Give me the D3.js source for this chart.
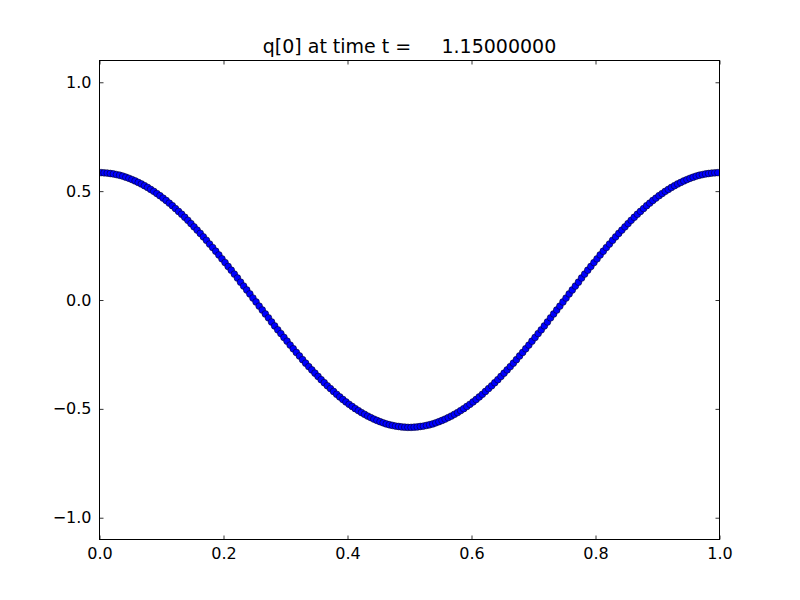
<!DOCTYPE html>
<html><head><meta charset="utf-8">
<script src="https://cdn.jsdelivr.net/npm/d3@7"></script>
<style>body{margin:0;background:#fff}svg{display:block}</style>
</head><body><svg id="c" width="800" height="600"></svg>
<script>
const titleText = "q[0] at time t =     1.15000000";
const xTicks = [0.0, 0.2, 0.4, 0.6, 0.8, 1.0];
const yTicks = [-1.0, -0.5, 0.0, 0.5, 1.0];
const xValues = [
0.0025,0.0075,0.0125,0.0175,0.0225,0.0275,0.0325,0.0375,0.0425,0.0475,
0.0525,0.0575,0.0625,0.0675,0.0725,0.0775,0.0825,0.0875,0.0925,0.0975,
0.1025,0.1075,0.1125,0.1175,0.1225,0.1275,0.1325,0.1375,0.1425,0.1475,
0.1525,0.1575,0.1625,0.1675,0.1725,0.1775,0.1825,0.1875,0.1925,0.1975,
0.2025,0.2075,0.2125,0.2175,0.2225,0.2275,0.2325,0.2375,0.2425,0.2475,
0.2525,0.2575,0.2625,0.2675,0.2725,0.2775,0.2825,0.2875,0.2925,0.2975,
0.3025,0.3075,0.3125,0.3175,0.3225,0.3275,0.3325,0.3375,0.3425,0.3475,
0.3525,0.3575,0.3625,0.3675,0.3725,0.3775,0.3825,0.3875,0.3925,0.3975,
0.4025,0.4075,0.4125,0.4175,0.4225,0.4275,0.4325,0.4375,0.4425,0.4475,
0.4525,0.4575,0.4625,0.4675,0.4725,0.4775,0.4825,0.4875,0.4925,0.4975,
0.5025,0.5075,0.5125,0.5175,0.5225,0.5275,0.5325,0.5375,0.5425,0.5475,
0.5525,0.5575,0.5625,0.5675,0.5725,0.5775,0.5825,0.5875,0.5925,0.5975,
0.6025,0.6075,0.6125,0.6175,0.6225,0.6275,0.6325,0.6375,0.6425,0.6475,
0.6525,0.6575,0.6625,0.6675,0.6725,0.6775,0.6825,0.6875,0.6925,0.6975,
0.7025,0.7075,0.7125,0.7175,0.7225,0.7275,0.7325,0.7375,0.7425,0.7475,
0.7525,0.7575,0.7625,0.7675,0.7725,0.7775,0.7825,0.7875,0.7925,0.7975,
0.8025,0.8075,0.8125,0.8175,0.8225,0.8275,0.8325,0.8375,0.8425,0.8475,
0.8525,0.8575,0.8625,0.8675,0.8725,0.8775,0.8825,0.8875,0.8925,0.8975,
0.9025,0.9075,0.9125,0.9175,0.9225,0.9275,0.9325,0.9375,0.9425,0.9475,
0.9525,0.9575,0.9625,0.9675,0.9725,0.9775,0.9825,0.9875,0.9925,0.9975
];
const qValues = [
0.585,0.584,0.583,0.581,0.579,0.576,0.573,0.569,0.564,0.559,
0.553,0.547,0.540,0.533,0.525,0.517,0.508,0.499,0.489,0.479,
0.468,0.457,0.445,0.433,0.420,0.407,0.394,0.380,0.366,0.351,
0.336,0.321,0.306,0.290,0.274,0.257,0.241,0.224,0.207,0.189,
0.172,0.154,0.137,0.119,0.101,0.082,0.064,0.046,0.028,0.009,
-0.009,-0.028,-0.046,-0.064,-0.082,-0.101,-0.119,-0.137,-0.154,-0.172,
-0.189,-0.207,-0.224,-0.241,-0.257,-0.274,-0.290,-0.306,-0.321,-0.336,
-0.351,-0.366,-0.380,-0.394,-0.407,-0.420,-0.433,-0.445,-0.457,-0.468,
-0.479,-0.489,-0.499,-0.508,-0.517,-0.525,-0.533,-0.540,-0.547,-0.553,
-0.559,-0.564,-0.569,-0.573,-0.576,-0.579,-0.581,-0.583,-0.584,-0.585,
-0.585,-0.584,-0.583,-0.581,-0.579,-0.576,-0.573,-0.569,-0.564,-0.559,
-0.553,-0.547,-0.540,-0.533,-0.525,-0.517,-0.508,-0.499,-0.489,-0.479,
-0.468,-0.457,-0.445,-0.433,-0.420,-0.407,-0.394,-0.380,-0.366,-0.351,
-0.336,-0.321,-0.306,-0.290,-0.274,-0.257,-0.241,-0.224,-0.207,-0.189,
-0.172,-0.154,-0.137,-0.119,-0.101,-0.082,-0.064,-0.046,-0.028,-0.009,
0.009,0.028,0.046,0.064,0.082,0.101,0.119,0.137,0.154,0.172,
0.189,0.207,0.224,0.241,0.257,0.274,0.290,0.306,0.321,0.336,
0.351,0.366,0.380,0.394,0.407,0.420,0.433,0.445,0.457,0.468,
0.479,0.489,0.499,0.508,0.517,0.525,0.533,0.540,0.547,0.553,
0.559,0.564,0.569,0.573,0.576,0.579,0.581,0.583,0.584,0.585
];

const L = 99.5, R = 719.5, T = 60.5, B = 539.5;
const svg = d3.select("#c");
const x = d3.scaleLinear().domain([0, 1]).range([L, R]);
const y = d3.scaleLinear().domain([-1.1, 1.1]).range([B, T]);
const font = "'DejaVu Sans', sans-serif";
const fmt = d => d3.format(".1f")(d).replace("-", "\u2212");

svg.append("defs").append("clipPath").attr("id", "clip")
  .append("rect").attr("x", L).attr("y", T).attr("width", R - L).attr("height", B - T);

// markers
svg.append("g").attr("clip-path", "url(#clip)")
  .selectAll("circle").data(qValues).join("circle")
  .attr("cx", (d, i) => x(xValues[i]))
  .attr("cy", d => y(d))
  .attr("r", 3.4)
  .attr("fill", "#0000ff")
  .attr("stroke", "#000")
  .attr("stroke-width", 0.5);

// axes with inward ticks
const axB = d3.axisBottom(x).tickValues(xTicks).tickSizeInner(-4).tickSizeOuter(0).tickPadding(8).tickFormat(fmt);
const axT = d3.axisTop(x).tickValues(xTicks).tickSizeInner(-4).tickSizeOuter(0).tickFormat("");
const axL = d3.axisLeft(y).tickValues(yTicks).tickSizeInner(-4).tickSizeOuter(0).tickPadding(8).tickFormat(fmt);
const axRt = d3.axisRight(y).tickValues(yTicks).tickSizeInner(-4).tickSizeOuter(0).tickFormat("");

function style(g) {
  g.select(".domain").remove();
  g.selectAll(".tick line").attr("stroke", "#000").attr("stroke-width", 0.8);
  g.selectAll("text").attr("font-family", font).attr("font-size", 16).attr("fill", "#000");
}
svg.append("g").attr("transform", `translate(0,${B})`).call(axB).call(style);
svg.append("g").attr("transform", `translate(0,${T})`).call(axT).call(style);
svg.append("g").attr("transform", `translate(${L},0)`).call(axL).call(style);
svg.append("g").attr("transform", `translate(${R},0)`).call(axRt).call(style);

svg.append("rect").attr("x", L).attr("y", T).attr("width", R - L).attr("height", B - T)
  .attr("fill", "none").attr("stroke", "#000").attr("stroke-width", 1);

svg.append("text").attr("x", (L + R) / 2).attr("y", 53)
  .attr("text-anchor", "middle").attr("font-family", font).attr("font-size", 19)
  .style("white-space", "pre").attr("xml:space", "preserve")
  .text(titleText);
</script></body></html>
